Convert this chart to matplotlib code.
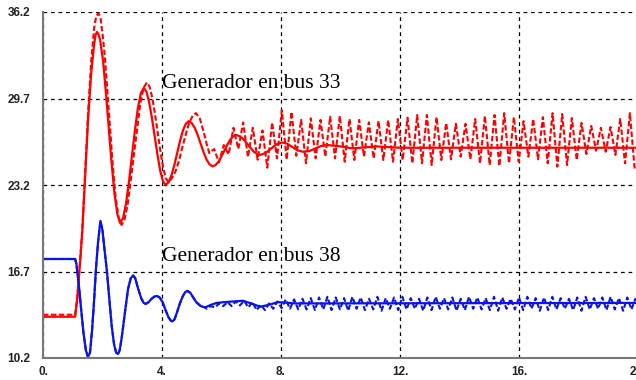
import numpy as np
import matplotlib
matplotlib.use("Agg")
import matplotlib.pyplot as plt

# red solid, generator bus 33 (time s, value)
red_t = [0, 1.08, 1.15, 1.25, 1.32, 1.42, 1.52, 1.62, 1.72, 1.77, 1.82, 1.87, 1.92, 2.02, 2.12,
         2.21, 2.30, 2.40, 2.50, 2.59, 2.69, 2.79, 2.89, 2.99, 3.09, 3.19, 3.29, 3.39, 3.48, 3.57,
         3.66, 3.755, 3.85, 3.94, 4.03, 4.12, 4.22, 4.315, 4.41, 4.51, 4.61, 4.705, 4.8, 4.9, 5.0,
         5.1, 5.2, 5.3, 5.4, 5.5, 5.6, 5.7, 5.8, 5.9, 6.0, 6.095, 6.19, 6.29, 6.39, 6.49, 6.59,
         6.69, 6.79, 6.895, 7.0, 7.1, 7.2, 7.3, 7.48, 7.665, 7.85, 8.03, 8.21, 8.385, 8.56, 8.74,
         8.95, 9.16, 9.37, 9.58, 10.0, 10.4, 11.2, 12.0, 20.0]
red_v = [13.3, 13.3, 14.6, 17.5, 19.7, 24.0, 28.3, 31.6, 33.8, 34.5, 34.7, 34.5, 34.1, 32.5, 30.0,
         27.5, 25.0, 22.6, 21.0, 20.35, 20.7, 21.8, 23.45, 25.4, 27.3, 29.0, 30.1, 30.5, 30.2, 29.4,
         28.25, 26.85, 25.45, 24.27, 23.5, 23.2, 23.4, 23.9, 24.65, 25.6, 26.55, 27.3, 27.8, 28.0, 27.85,
         27.5, 26.95, 26.3, 25.65, 25.1, 24.75, 24.6, 24.7, 24.95, 25.35, 25.78, 26.2, 26.6, 26.85, 26.96, 26.88,
         26.74, 26.5, 26.21, 25.92, 25.68, 25.52, 25.46, 25.6, 25.93, 26.26, 26.4, 26.3, 26.05, 25.8, 25.7,
         25.75, 25.95, 26.15, 26.2, 26.1, 25.95, 26.1, 26.0, 26.0]

# red dashed: transient part, then fast swing (alternating trough / peak)
red_d_t = [0, 1.08, 1.15, 1.25, 1.32, 1.42, 1.52, 1.62, 1.72, 1.79, 1.86, 1.93, 2.0, 2.08, 2.16,
           2.25, 2.34, 2.44, 2.54, 2.64, 2.74, 2.85, 2.95, 3.06, 3.17, 3.27, 3.38, 3.49, 3.58, 3.67,
           3.76, 3.855, 3.95, 4.04, 4.13, 4.22, 4.33, 4.45, 4.57, 4.68, 4.8, 4.91, 5.03, 5.14, 5.27,
           5.4, 5.5]
red_d_v = [13.45, 13.45, 14.7, 17.6, 19.8, 24.3, 28.8, 32.5, 35.0, 35.9, 36.1, 35.8, 34.6, 32.8, 30.3,
           27.6, 24.8, 22.3, 20.8, 20.2, 20.6, 21.8, 23.6, 25.55, 27.6, 29.3, 30.5, 30.9, 30.6, 29.8,
           28.6, 27.15, 25.7, 24.5, 23.7, 23.4, 23.7, 24.2, 25.0, 26.0, 27.0, 27.84, 28.4, 28.6, 28.2,
           27.2, 26.3]
red_hf_start = 5.59
red_hf_step = 0.1625
red_hf_v = [25.6, 25.9, 24.9, 26.2, 25.5, 27.5, 25.9, 27.9, 25.3, 27.5, 25.1, 27.3, 24.5, 27.9, 25.2,
            28.8, 25.1, 28.7, 25.4, 28.1, 24.83, 28.21, 25.2, 28.09, 25.33, 28.33, 25.2, 28.4, 24.95, 28.16,
            25.08, 28.09, 25.33, 27.91, 25.2, 28.01, 25.08, 28.09, 24.95, 28.16, 25.08, 28.26, 24.83, 28.46, 24.83,
            28.46, 24.7, 28.3, 25.08, 27.86, 25.13, 27.8, 25.33, 27.8, 25.13, 28.16, 24.83, 28.39, 24.7, 28.46,
            24.63, 28.6, 24.83, 28.3, 24.95, 28.0, 25.33, 28.16, 25.13, 28.3, 24.83, 28.6, 24.58, 28.53, 24.7,
            28.23, 25.08, 27.86, 25.53, 27.64, 25.78, 27.5, 25.7, 27.56, 25.46, 28.16, 24.83, 28.6, 24.33]

# blue solid, generator bus 38
blue_t = [0, 1.08, 1.12, 1.2, 1.28, 1.36, 1.44, 1.51, 1.58, 1.65, 1.72, 1.78, 1.85, 1.93, 2.0,
          2.07, 2.15, 2.23, 2.31, 2.39, 2.46, 2.52, 2.58, 2.65, 2.77, 2.86, 2.95, 3.03, 3.1, 3.2,
          3.3, 3.38, 3.45, 3.55, 3.65, 3.75, 3.83, 3.92, 4.02, 4.12, 4.22, 4.3, 4.35, 4.42, 4.5,
          4.6, 4.7, 4.78, 4.86, 4.95, 5.05, 5.15, 5.3, 5.45, 5.65, 5.84, 6.1, 6.4, 6.72, 7.0,
          7.3, 7.6, 7.9, 8.5, 20.0]
blue_v = [17.64, 17.64, 17.3, 15.8, 13.9, 12.1, 10.8, 10.28, 10.6, 12.3, 14.6, 16.9, 18.9, 20.5, 19.8,
          18.3, 16.7, 14.6, 12.6, 11.2, 10.6, 10.5, 10.8, 11.8, 13.9, 15.4, 16.2, 16.4, 16.2, 15.4,
          14.7, 14.35, 14.26, 14.4, 14.65, 14.82, 14.86, 14.75, 14.4, 13.8, 13.25, 13.0, 12.95, 13.1, 13.6,
          14.3, 14.85, 15.15, 15.24, 15.1, 14.75, 14.4, 14.1, 14.0, 14.2, 14.34, 14.4, 14.45, 14.5, 14.3,
          14.05, 14.2, 14.4, 14.3, 14.34]

# blue dashed: follows the solid until 5.5 s, then a small fast swing
blue_hf_start = 5.5
blue_hf_step = 0.14
blue_hf_troughs = [13.9, 14.0, 14.1, 14.1, 14.15, 14.0, 13.8, 13.8, 13.9, 13.95, 13.9, 13.85, 13.85,
                   13.8, 13.85, 13.8, 13.85, 13.75, 13.9, 13.8, 13.85, 13.75, 13.9, 13.8, 13.85, 13.9,
                   13.75, 13.8, 13.9, 13.85, 13.75, 13.8, 13.9, 13.85, 13.8, 13.75, 13.9, 13.85, 13.8,
                   13.9, 13.75, 13.8, 13.85, 13.9, 13.8, 13.75, 13.85, 13.9, 13.8, 13.85, 13.75, 13.85]
blue_hf_peaks = [14.1, 14.3, 14.4, 14.45, 14.5, 14.4, 14.2, 14.3, 14.45, 14.6, 14.6, 14.65, 14.7,
                 14.75, 14.8, 14.75, 14.7, 14.8, 14.75, 14.65, 14.8, 14.7, 14.75, 14.8, 14.7, 14.65,
                 14.75, 14.8, 14.7, 14.75, 14.65, 14.8, 14.75, 14.7, 14.8, 14.75, 14.65, 14.75, 14.8,
                 14.7, 14.75, 14.8, 14.7, 14.65, 14.75, 14.8, 14.7, 14.75, 14.8, 14.7, 14.75, 14.7]

x_ticks = [0, 4, 8, 12, 16, 20]
x_labels = ["0.", "4.", "8.", "12.", "16.", "20."]
y_ticks = [10.2, 16.7, 23.2, 29.7, 36.2]

RED = "#ff0000"
BLUE = "#0a14e6"

fig = plt.figure(figsize=(6.36, 3.8), dpi=100)
ax = fig.add_axes([43 / 636, 22 / 380, 595 / 636, 346 / 380])

# dashed curves
red_hf_t = red_hf_start + red_hf_step * np.arange(len(red_hf_v))
rd_t = np.concatenate([red_d_t, red_hf_t])
rd_v = np.concatenate([red_d_v, red_hf_v])

n_b = len(blue_hf_peaks)
bhf_v = np.ravel(np.column_stack([blue_hf_troughs[:n_b], blue_hf_peaks]))
bhf_t = blue_hf_start + blue_hf_step * np.arange(len(bhf_v))
blue_t_arr = np.array(blue_t)
keep = blue_t_arr < blue_hf_start
bd_t = np.concatenate([blue_t_arr[keep], bhf_t])
bd_v = np.concatenate([np.array(blue_v)[keep], bhf_v])

ax.plot(rd_t, rd_v, color=RED, lw=1.5, ls=(0, (2.6, 1.2)), zorder=3)
ax.plot(red_t, red_v, color=RED, lw=1.6, zorder=4)
ax.plot(bd_t, bd_v, color=BLUE, lw=1.5, ls=(0, (2.6, 1.2)), zorder=3)
ax.plot(blue_t, blue_v, color=BLUE, lw=1.6, zorder=4)

ax.set_xlim(0, 20)
ax.set_ylim(10.2, 36.2)
ax.set_xticks(x_ticks)
ax.set_xticklabels(x_labels)
ax.set_yticks(y_ticks)
ax.set_yticklabels([f"{v:.1f}" for v in y_ticks])
ax.tick_params(length=0, labelsize=8.5, colors="#222222")
ax.tick_params(axis="x", pad=6)
ax.tick_params(axis="y", pad=9)
for lab in ax.get_xticklabels() + ax.get_yticklabels():
    lab.set_fontweight("bold")
    lab.set_fontfamily("Liberation Sans")

ax.grid(True, color="black", lw=0.9, ls=(0, (3, 3)), zorder=1)
ax.set_axisbelow(True)
for s in ["top", "right"]:
    ax.spines[s].set_visible(False)
for s in ["left", "bottom"]:
    ax.spines[s].set_color("#777777")
    ax.spines[s].set_linewidth(1.5)
    ax.spines[s].set_zorder(5)

ax.text(4.0, 30.5, "Generador en bus 33", family="Liberation Serif", fontsize=15.5,
        va="baseline", ha="left", zorder=6)
ax.text(4.0, 17.5, "Generador en bus 38", family="Liberation Serif", fontsize=15.5,
        va="baseline", ha="left", zorder=6)

fig.savefig("out.png", dpi=100)
